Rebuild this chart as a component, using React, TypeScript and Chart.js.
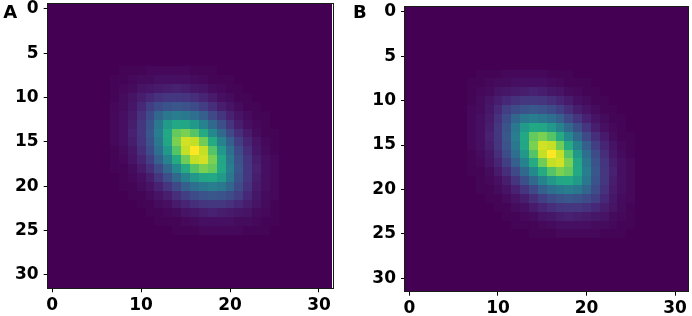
import React, { useEffect, useRef } from "react";
import { Chart, registerables } from "chart.js";

Chart.register(...registerables);

// Image is 32 x 32 pixels; everything outside the window below is background (0).
const gridSize = 32;
const windowRowStart = 7;
const windowColStart = 7;

// Intensity (0..100) for rows 7..25, columns 7..25 of panel A.
const imageA: number[][] = [
  [0, 1, 1, 1, 2, 2, 2, 2, 2, 1, 1, 1, 0, 0, 0, 0, 0, 0, 0],
  [1, 1, 2, 3, 3, 4, 4, 4, 4, 3, 2, 1, 1, 1, 0, 0, 0, 0, 0],
  [1, 2, 3, 5, 6, 7, 8, 9, 8, 6, 5, 3, 2, 1, 1, 0, 0, 0, 0],
  [1, 3, 5, 8, 11, 14, 16, 16, 15, 13, 10, 7, 4, 3, 1, 1, 0, 0, 0],
  [2, 3, 6, 11, 18, 23, 26, 27, 25, 23, 18, 13, 8, 5, 3, 1, 1, 0, 0],
  [2, 4, 7, 14, 23, 33, 40, 42, 40, 36, 30, 22, 15, 9, 5, 3, 1, 1, 0],
  [2, 4, 8, 16, 26, 40, 54, 60, 59, 53, 44, 34, 24, 15, 8, 4, 2, 1, 0],
  [2, 4, 9, 16, 27, 42, 60, 76, 80, 73, 61, 47, 34, 22, 13, 7, 3, 1, 1],
  [2, 4, 8, 15, 25, 40, 59, 80, 93, 91, 78, 61, 44, 30, 18, 10, 5, 2, 1],
  [1, 3, 6, 13, 23, 36, 53, 73, 91, 100, 91, 73, 53, 36, 23, 13, 6, 3, 1],
  [1, 2, 5, 10, 18, 30, 44, 61, 78, 91, 93, 80, 59, 40, 25, 15, 8, 4, 2],
  [1, 1, 3, 7, 13, 22, 34, 47, 61, 73, 80, 76, 60, 42, 27, 16, 9, 4, 2],
  [0, 1, 2, 4, 8, 15, 24, 34, 44, 53, 59, 60, 54, 40, 26, 16, 8, 4, 2],
  [0, 1, 1, 3, 5, 9, 15, 22, 30, 36, 40, 42, 40, 33, 23, 14, 7, 4, 2],
  [0, 0, 1, 1, 3, 5, 8, 13, 18, 23, 25, 27, 26, 23, 18, 11, 6, 3, 2],
  [0, 0, 0, 1, 1, 3, 4, 7, 10, 13, 15, 16, 16, 14, 11, 8, 5, 3, 1],
  [0, 0, 0, 0, 1, 1, 2, 3, 5, 6, 8, 9, 8, 7, 6, 5, 3, 2, 1],
  [0, 0, 0, 0, 0, 1, 1, 1, 2, 3, 4, 4, 4, 4, 3, 3, 2, 1, 1],
  [0, 0, 0, 0, 0, 0, 0, 1, 1, 1, 2, 2, 2, 2, 2, 1, 1, 1, 0],
];

// Panel B looks the same as panel A at this resolution.
const imageB: number[][] = imageA;

const xTickValues = [0, 10, 20, 30];
const yTickValues = [0, 5, 10, 15, 20, 25, 30];

const viridisStops = [
  "#440154", "#482475", "#414487", "#355f8d", "#2a788e", "#21918c",
  "#22a884", "#44bf70", "#7ad151", "#bddf26", "#fde725",
];

function hexToRgb(h: string): number[] {
  return [1, 3, 5].map((i) => parseInt(h.slice(i, i + 2), 16));
}
const viridisRgb = viridisStops.map(hexToRgb);

function viridis(t: number): string {
  const x = Math.max(0, Math.min(1, t)) * (viridisRgb.length - 1);
  const i = Math.min(viridisRgb.length - 2, Math.floor(x));
  const f = x - i;
  const a = viridisRgb[i];
  const b = viridisRgb[i + 1];
  const c = a.map((v, k) => Math.round(v + (b[k] - v) * f));
  return `rgb(${c[0]},${c[1]},${c[2]})`;
}

function buildPoints(win: number[][]) {
  const pts: { x: number; y: number; v: number }[] = [];
  for (let r = 0; r < gridSize; r++) {
    for (let c = 0; c < gridSize; c++) {
      const wr = r - windowRowStart;
      const wc = c - windowColStart;
      let v = 0;
      if (wr >= 0 && wr < win.length && wc >= 0 && wc < win[wr].length) v = win[wr][wc];
      pts.push({ x: c, y: r, v });
    }
  }
  return pts;
}

const FONT = "'DejaVu Sans', sans-serif";

interface PanelProps {
  image: number[][];
  label: string;
  left: number;
  width: number;
  padTop: number;
  padRight: number;
  yAxisWidth: number;
  xAxisHeight: number;
  labelX: number;
}

function Panel(p: PanelProps) {
  const ref = useRef<HTMLCanvasElement | null>(null);
  useEffect(() => {
    if (!ref.current) return;
    const pts = buildPoints(p.image);
    const maxV = Math.max(...pts.map((d) => d.v));
    const heatPlugin = {
      id: "heat",
      beforeDatasetsDraw(chart: any) {
        const ctx = chart.ctx;
        const xs = chart.scales.x;
        const ys = chart.scales.y;
        const data = chart.data.datasets[0].data as any[];
        ctx.save();
        for (const d of data) {
          const x0 = Math.round(xs.getPixelForValue(d.x - 0.5));
          const x1 = Math.round(xs.getPixelForValue(d.x + 0.5));
          const y0 = Math.round(ys.getPixelForValue(d.y - 0.5));
          const y1 = Math.round(ys.getPixelForValue(d.y + 0.5));
          ctx.fillStyle = viridis(d.v / maxV);
          ctx.fillRect(Math.min(x0, x1), Math.min(y0, y1), Math.abs(x1 - x0), Math.abs(y1 - y0));
        }
        ctx.restore();
      },
      afterDraw(chart: any) {
        const ctx = chart.ctx;
        const a = chart.chartArea;
        ctx.save();
        ctx.strokeStyle = "#1a1a1a";
        ctx.lineWidth = 1;
        ctx.strokeRect(Math.round(a.left) - 0.5, Math.round(a.top) - 0.5, Math.round(a.right - a.left) + 1, Math.round(a.bottom - a.top) + 1);
        ctx.fillStyle = "#000";
        ctx.font = `bold 18px ${FONT}`;
        ctx.textBaseline = "alphabetic";
        ctx.textAlign = "left";
        ctx.fillText(p.label, p.labelX, 17.5);
        ctx.restore();
      },
    };
    const tickFont = { family: FONT, size: 17, weight: "bold" as const };
    const chart = new Chart(ref.current, {
      type: "scatter",
      data: {
        datasets: [
          {
            data: pts as any,
            pointRadius: 0,
            pointHoverRadius: 0,
          },
        ],
      },
      options: {
        animation: false,
        responsive: false,
        devicePixelRatio: 1,
        events: [],
        layout: { padding: { top: p.padTop, right: p.padRight, left: 0, bottom: 0 } },
        plugins: { legend: { display: false }, tooltip: { enabled: false } },
        scales: {
          x: {
            type: "linear",
            min: -0.5,
            max: 31.5,
            afterBuildTicks: (s: any) => {
              s.ticks = xTickValues.map((v) => ({ value: v }));
            },
            afterFit: (s: any) => {
              s.height = p.xAxisHeight;
              s.paddingLeft = 0;
              s.paddingRight = 0;
            },
            ticks: { font: tickFont, color: "#000", padding: 3, maxRotation: 0, autoSkip: false },
            grid: { drawOnChartArea: false, drawTicks: true, tickLength: 4, color: "#000", lineWidth: 1 },
            border: { display: false },
          },
          y: {
            type: "linear",
            min: -0.5,
            max: 31.5,
            reverse: true,
            afterBuildTicks: (s: any) => {
              s.ticks = yTickValues.map((v) => ({ value: v }));
            },
            afterFit: (s: any) => {
              s.width = p.yAxisWidth;
              s.paddingTop = 0;
              s.paddingBottom = 0;
            },
            ticks: { font: tickFont, color: "#000", padding: 5, autoSkip: false },
            grid: { drawOnChartArea: false, drawTicks: true, tickLength: 4, color: "#000", lineWidth: 1 },
            border: { display: false },
          },
        },
      },
      plugins: [heatPlugin],
    });
    return () => chart.destroy();
  }, []);
  return (
    <canvas
      ref={ref}
      width={p.width}
      height={316}
      style={{ position: "absolute", left: p.left, top: 0, width: p.width, height: 316 }}
    />
  );
}

export default function App() {
  return (
    <div style={{ position: "absolute", left: 0, top: 0, width: 692, height: 316, background: "#fff", overflow: "hidden" }}>
      <Panel image={imageA} label="A" left={0} width={346} padTop={4.3} padRight={13.7} yAxisWidth={47.7} xAxisHeight={27.7} labelX={3.3} />
      <Panel image={imageB} label="B" left={346} width={346} padTop={7.3} padRight={3.7} yAxisWidth={59} xAxisHeight={24.3} labelX={7} />
    </div>
  );
}
